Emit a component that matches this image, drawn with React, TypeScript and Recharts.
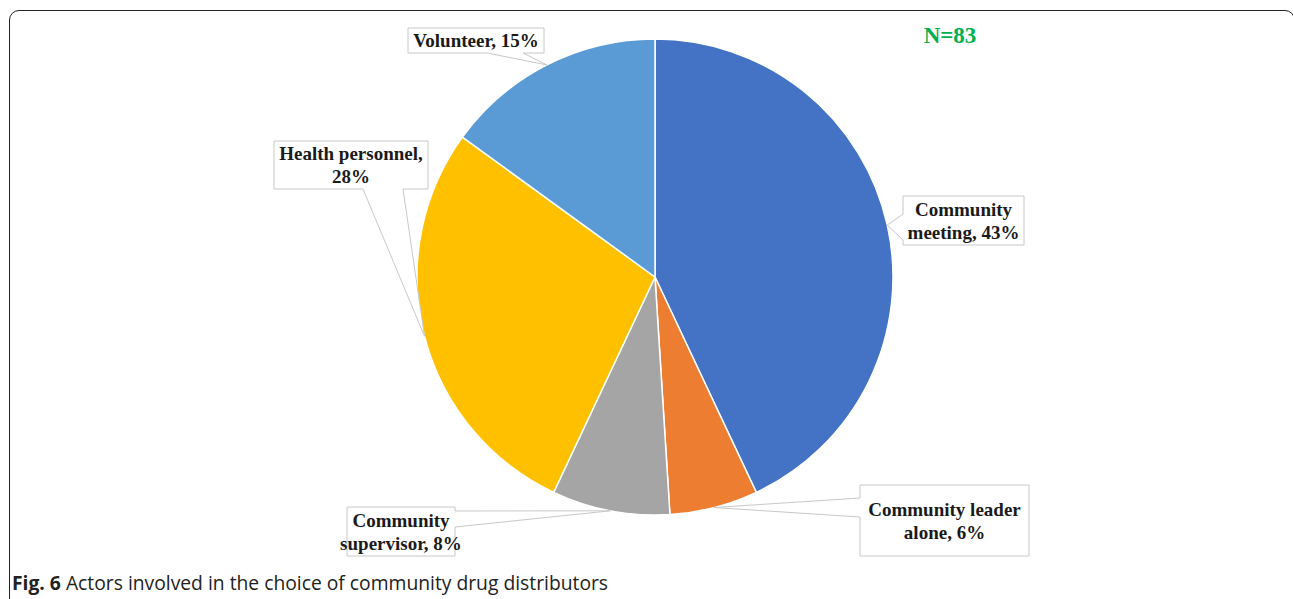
import { PieChart, Pie, Cell } from 'recharts'

const actors = ['Community meeting', 'Community leader alone', 'Community supervisor', 'Health personnel', 'Volunteer']
const shares = [43, 6, 8, 28, 15]
const colors = ['#4472C4', '#ED7D31', '#A5A5A5', '#FFC000', '#5B9BD5']
const totalN = 83

const data = actors.map((name, i) => ({ name, value: shares[i] }))

// callout boxes, placed relative to the pie centre
const callouts = [
    { left: 248, top: -81, w: 121, h: 49, side: 'left', a: 18, b: 44, split: 1 },
    { left: 205, top: 208, w: 169, h: 71, side: 'left', a: 13, b: 32, split: 2 },
    { left: -308, top: 230, w: 108, h: 49, side: 'right', a: 4, b: 20, split: 1 },
    { left: -381, top: -136, w: 154, h: 48, side: 'bottom', a: 89, b: 129, split: 2 },
    { left: -247, top: -249, w: 136, h: 25, side: 'bottom', a: 79, b: 115, split: 9 },
]

const RAD = Math.PI / 180
const W = 1293
const H = 599
// recharts adds its 5px margin to cx/cy
const CX = 650
const CY = 272

const calloutPath = (x: number, y: number, w: number, h: number, side: string, a: number, b: number, tx: number, ty: number) => {
    const R = x + w
    const B = y + h
    const pts: number[][] = [[x, y], [R, y]]
    if (side === 'right') pts.push([R, y + a], [tx, ty], [R, y + b])
    pts.push([R, B])
    if (side === 'bottom') pts.push([x + b, B], [tx, ty], [x + a, B])
    pts.push([x, B])
    if (side === 'left') pts.push([x, y + b], [tx, ty], [x, y + a])
    return 'M' + pts.map(p => p[0] + ',' + p[1]).join('L') + 'Z'
}

const renderCallout = (props: any) => {
    const { cx, cy, midAngle, outerRadius, index, name, value } = props
    const c = callouts[index]
    const tx = cx + outerRadius * Math.cos(-midAngle * RAD)
    const ty = cy + outerRadius * Math.sin(-midAngle * RAD)
    const x = cx + c.left
    const y = cy + c.top
    const words = `${name}, ${value}%`.split(' ')
    const lines = [words.slice(0, c.split).join(' '), words.slice(c.split).join(' ')].filter(s => s.length)
    const lh = 23
    const y0 = y + c.h / 2 - ((lines.length - 1) * lh) / 2
    return (
        <g key={'callout-' + index}>
            <path d={calloutPath(x, y, c.w, c.h, c.side, c.a, c.b, tx, ty)} fill="#fff" stroke="#c8c8c8" strokeWidth={1} />
            {lines.map((ln, i) => (
                <text key={i} x={x + c.w / 2} y={y0 + i * lh} textAnchor="middle" dominantBaseline="central"
                    fontFamily="'Liberation Serif', 'Times New Roman', serif" fontWeight="bold" fontSize={19} fill="#1a1a1a">
                    {ln}
                </text>
            ))}
        </g>
    )
}

export default function App() {
    return (
        <div style={{ position: 'fixed', left: 0, top: 0, width: W, height: H, overflow: 'hidden', background: '#fff' }}>
            <div style={{ position: 'absolute', left: 9, top: 10, width: 1284, height: 700, border: '1.5px solid #222', borderRadius: 10 }} />
            <PieChart width={W} height={H} style={{ position: 'absolute', left: 0, top: 0 }}>
                <Pie data={data} dataKey="value" nameKey="name" cx={CX} cy={CY} outerRadius={238}
                    startAngle={90} endAngle={-270} stroke="#fff" strokeWidth={1.5}
                    label={renderCallout} labelLine={false} isAnimationActive={false}>
                    {data.map((d, i) => <Cell key={d.name} fill={colors[i]} />)}
                </Pie>
            </PieChart>
            <div style={{ position: 'absolute', left: 906, top: 23, width: 88, textAlign: 'center', fontFamily: "'Liberation Serif', 'Times New Roman', serif", fontWeight: 'bold', fontSize: 23, color: '#00B050' }}>
                N={totalN}
            </div>
            <div style={{ position: 'absolute', left: 12, top: 569, fontFamily: "'Open Sans', sans-serif", fontSize: 19.3, color: '#222', whiteSpace: 'nowrap' }}>
                <b>Fig. 6</b> Actors involved in the choice of community drug distributors
            </div>
        </div>
    )
}
